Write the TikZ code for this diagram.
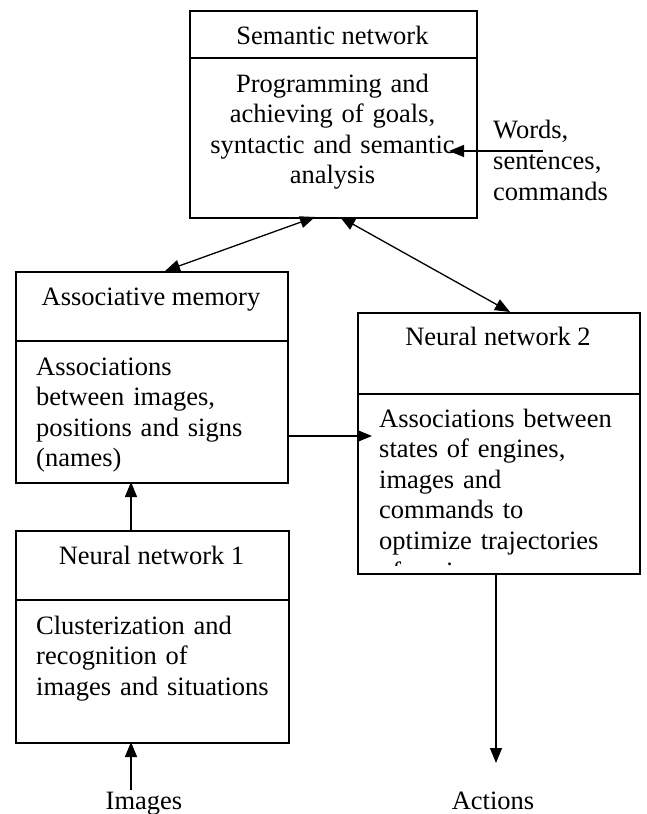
\documentclass[tikz,border=0pt]{standalone}
\usepackage{fontspec}
\setmainfont{Liberation Serif}
\usetikzlibrary{arrows.meta}
\begin{document}
\begin{tikzpicture}[x=1pt,y=-1pt,
  box/.style={draw, line width=1.6pt, rectangle, inner sep=0pt, anchor=north west},
  divider/.style={line width=1.6pt},
  txt/.style={inner sep=0pt, font=\fontsize{26.5pt}{30.5pt}\selectfont},
  conn/.style={line width=1.3pt, -{Triangle[length=15pt,width=12pt]}},
  dconn/.style={line width=1.3pt, {Triangle[length=15pt,width=12pt]}-{Triangle[length=15pt,width=12pt]}}]
\useasboundingbox (0,0) rectangle (646,814);
\fill[white] (0,0) rectangle (646,814);

% Boxes
\node[box, minimum width=287pt, minimum height=207pt] (sem) at (189,10) {};
\node[box, minimum width=272pt, minimum height=211pt] (am) at (15,271) {};
\node[box, minimum width=273pt, minimum height=212pt] (nn1) at (15,530) {};
\node[box, minimum width=282pt, minimum height=261pt] (nn2) at (357,312) {};

% Dividers
\draw[divider] (sem.west |- 0,58) -- (sem.east |- 0,58);
\draw[divider] (am.west |- 0,341) -- (am.east |- 0,341);
\draw[divider] (nn1.west |- 0,600) -- (nn1.east |- 0,600);
\draw[divider] (nn2.west |- 0,394) -- (nn2.east |- 0,394);

% Titles
\node[txt, anchor=base] (semt) at (332.5,44) {Semantic network};
\node[txt, anchor=base] (amt) at (151,305) {Associative memory};
\node[txt, anchor=base] (nn1t) at (151.5,564) {Neural network 1};
\node[txt, anchor=base] (nn2t) at (498,345) {Neural network 2};

% Bodies
\node[txt, anchor=base, text width=285pt, align=center] (semb) at (332.5,92)
  {Programming and\\achieving of goals,\\syntactic and semantic\\analysis};
\node[txt, anchor=base west, text width=250pt, align=left] (amb) at (36,375)
  {Associations\\between images,\\positions and signs\\(names)};
\node[txt, anchor=base west, text width=250pt, align=left] (nn1b) at (36,634)
  {Clusterization and\\recognition of\\images and situations};
\node[txt, anchor=base west, text width=260pt, align=left] (nn2b) at (379,427)
  {Associations between\\states of engines,\\images and\\commands to\\optimize trajectories};
\begin{scope}
  \clip (358,550) rectangle (638,565.5);
  \node[txt, anchor=base west] (nn2c) at (379,580) {of engines};
\end{scope}

% External labels
\node[txt, anchor=base west, text width=150pt, align=left,
      font=\fontsize{26.5pt}{31pt}\selectfont] (words) at (493,138)
  {Words,\\sentences,\\commands};
\node[txt, anchor=base] (images) at (144,809) {Images};
\node[txt, anchor=base] (actions) at (493,809) {Actions};

% Connector end points
\coordinate (wS) at (543,151);
\coordinate (wT) at (449,151);
\coordinate (s1) at (315,217);
\coordinate (a1) at (165,271);
\coordinate (s2) at (340,217);
\coordinate (n2) at (510,312);
\coordinate (amR) at (287,436);
\coordinate (nn2L) at (372,436);
\coordinate (nn1T) at (131,530);
\coordinate (amB) at (131,482);
\coordinate (imgT) at (131,790);
\coordinate (nn1B) at (131,742);
\coordinate (nn2B) at (496,573);
\coordinate (actT) at (496,763);

% Connectors
\draw[conn] (wS) -- (wT);
\draw[dconn] (s1) -- (a1);
\draw[dconn] (s2) -- (n2);
\draw[conn] (amR) -- (nn2L);
\draw[conn] (nn1T) -- (amB);
\draw[conn] (imgT) -- (nn1B);
\draw[conn] (nn2B) -- (actT);
\end{tikzpicture}
\end{document}
